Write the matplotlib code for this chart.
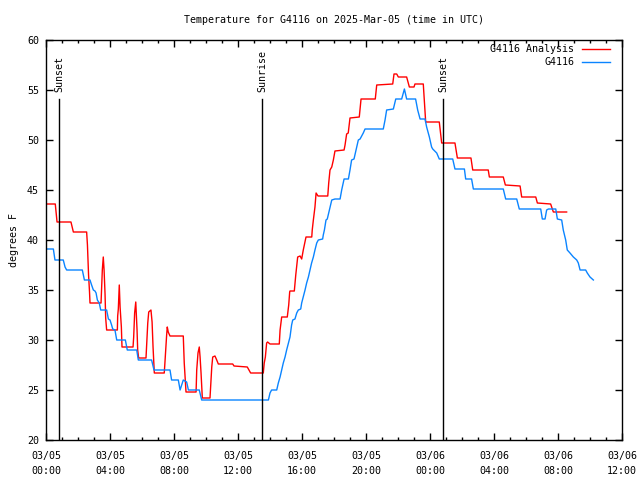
import matplotlib
matplotlib.use("Agg")
import matplotlib.pyplot as plt
from matplotlib.ticker import MultipleLocator

# ---- data (hours since 2025-03-05 00:00 UTC, degrees F) ----
analysis_hours = [0.04, 0.58, 0.69, 1.56, 1.71, 2.54, 2.59, 2.66, 2.72, 2.75, 3.44, 3.52, 3.58, 3.63, 3.69, 3.73,
                  3.79, 4.46, 4.48, 4.52, 4.58, 4.63, 4.71, 4.75, 5.44, 5.48, 5.54, 5.61, 5.64, 5.69, 5.73, 5.79,
                  6.25, 6.29, 6.36, 6.42, 6.56, 6.63, 6.69, 6.77, 7.39, 7.42, 7.48, 7.54, 7.58, 7.64, 7.75, 8.58,
                  8.64, 8.75, 9.38, 9.42, 9.50, 9.58, 9.63, 9.69, 9.77, 10.25, 10.29, 10.36, 10.42, 10.56, 10.67,
                  10.77, 11.67, 11.75, 12.58, 12.79, 13.58, 13.64, 13.71, 13.79, 13.85, 14.00, 14.58, 14.63, 14.73,
                  15.08, 15.17, 15.23, 15.25, 15.52, 15.61, 15.73, 15.88, 15.98, 16.08, 16.25, 16.61, 16.64, 16.71,
                  16.81, 16.88, 17.00, 17.61, 17.67, 17.75, 17.86, 17.96, 18.06, 18.63, 18.69, 18.79, 18.89, 19.00,
                  19.58, 19.69, 20.58, 20.67, 21.67, 21.75, 21.92, 22.02, 22.54, 22.71, 23.00, 23.06, 23.58, 23.73,
                  24.58, 24.73, 25.56, 25.71, 26.56, 26.67, 27.64, 27.71, 28.58, 28.71, 29.63, 29.73, 30.61, 30.71,
                  31.54, 31.71, 32.54]
analysis_temps = [43.6, 43.6, 41.8, 41.8, 40.8, 40.8, 39.5, 36.5, 34.8, 33.7, 33.7, 37.0, 38.3, 37.0, 34.6, 32.2,
                  31.0, 31.0, 32.4, 33.1, 35.5, 33.3, 31.3, 29.3, 29.3, 30.3, 32.7, 33.8, 32.8, 31.0, 29.0, 28.2,
                  28.2, 29.4, 31.7, 32.8, 33.0, 31.8, 29.3, 26.7, 26.7, 27.4, 29.0, 30.5, 31.3, 30.8, 30.4, 30.4,
                  27.7, 24.8, 24.8, 27.0, 28.7, 29.3, 28.3, 26.7, 24.2, 24.2, 25.3, 27.3, 28.3, 28.4, 28.0,
                  27.6, 27.6, 27.4, 27.3, 26.7, 26.7, 27.7, 28.3, 29.7, 29.8, 29.6, 29.6, 31.0, 32.3,
                  32.3, 33.5, 34.8, 34.9, 34.9, 36.5, 38.3, 38.4, 38.1, 39.0, 40.3, 40.3, 41.0, 42.0,
                  43.3, 44.7, 44.4, 44.4, 45.7, 47.0, 47.3, 48.0, 48.9, 49.0, 49.5, 50.6, 50.7, 52.2,
                  52.3, 54.1, 54.1, 55.5, 55.6, 56.6, 56.6, 56.3, 56.3, 55.3, 55.3, 55.6, 55.6, 51.8,
                  51.8, 49.7, 49.7, 48.2, 48.2, 47.0, 47.0, 46.3, 46.3, 45.5, 45.4, 44.3, 44.3, 43.7,
                  43.6, 42.8, 42.8]

obs_hours = [0.04, 0.46, 0.56, 1.08, 1.19, 1.29, 2.27, 2.40, 2.75, 2.85, 2.96, 3.06, 3.13, 3.21, 3.33, 3.42,
             3.79, 3.90, 4.00, 4.10, 4.17, 4.31, 4.42, 4.96, 5.04, 5.08, 5.67, 5.77, 6.60, 6.75, 7.75, 7.85,
             8.27, 8.38, 8.48, 8.58, 8.79, 8.90, 9.58, 9.73, 13.90, 14.00, 14.10, 14.42, 14.52, 14.63, 14.73,
             14.83, 14.94, 15.04, 15.15, 15.25, 15.35, 15.42, 15.56, 15.67, 15.77, 15.92, 15.98, 16.08, 16.19,
             16.29, 16.40, 16.50, 16.60, 16.71, 16.81, 16.92, 17.02, 17.29, 17.33, 17.40, 17.50, 17.58, 17.71,
             17.86, 18.06, 18.38, 18.48, 18.63, 18.90, 19.00, 19.10, 19.25, 19.38, 19.52, 19.63, 19.83, 19.94,
             21.08, 21.19, 21.29, 21.71, 21.86, 22.23, 22.33, 22.40, 22.48, 22.54, 23.10, 23.23, 23.38, 23.69,
             23.79, 23.96, 24.10, 24.17, 24.42, 24.58, 25.42, 25.56, 26.15, 26.23, 26.60, 26.71, 28.58, 28.73,
             29.42, 29.58, 30.92, 31.02, 31.19, 31.29, 31.40, 31.86, 31.96, 32.23, 32.33, 32.48, 32.58, 32.75,
             32.96, 33.17, 33.27, 33.38, 33.73, 33.83, 34.00, 34.21]
obs_temps = [39.1, 39.1, 38.0, 38.0, 37.3, 37.0, 37.0, 36.0, 36.0, 35.5, 35.0, 34.9, 34.7, 34.0, 33.7, 33.0,
             33.0, 32.1, 32.0, 31.5, 31.1, 31.0, 30.0, 30.0, 29.3, 29.0, 29.0, 28.0, 28.0, 27.0, 27.0, 26.0,
             26.0, 25.0, 25.5, 26.0, 25.8, 25.0, 25.0, 24.0, 24.0, 24.7, 25.0, 25.0, 25.7, 26.3, 27.0,
             27.7, 28.3, 29.0, 29.7, 30.3, 31.5, 32.0, 32.1, 32.7, 33.0, 33.1, 33.7, 34.3, 35.0,
             35.7, 36.3, 37.0, 37.7, 38.3, 39.0, 39.7, 40.0, 40.1, 40.5, 41.0, 42.0, 42.1, 43.0,
             44.0, 44.1, 44.1, 45.0, 46.1, 46.1, 47.0, 48.0, 48.1, 49.0, 50.0, 50.1, 50.7, 51.1,
             51.1, 52.0, 53.0, 53.1, 54.1, 54.1, 54.7, 55.1, 54.5, 54.1, 54.1, 53.0, 52.1, 52.1,
             51.3, 50.3, 49.3, 49.1, 48.7, 48.1, 48.1, 47.1, 47.1, 46.1, 46.1, 45.1, 45.1, 44.1,
             44.1, 43.1, 43.1, 42.1, 42.1, 43.0, 43.1, 43.1, 42.1, 42.0, 41.0, 40.0, 39.0, 38.7,
             38.3, 38.0, 37.7, 37.0, 37.0, 36.7, 36.3, 36.0]

event_names = ["Sunset", "Sunrise", "Sunset"]
event_hours = [0.83, 13.52, 24.83]

xtick_hours = [0, 4, 8, 12, 16, 20, 24, 28, 32, 36]
xtick_labels = ["03/05\n00:00", "03/05\n04:00", "03/05\n08:00", "03/05\n12:00", "03/05\n16:00",
                "03/05\n20:00", "03/06\n00:00", "03/06\n04:00", "03/06\n08:00", "03/06\n12:00"]
series_names = ["G4116 Analysis", "G4116"]

FONT = "DejaVu Sans Mono"
FS = 7.2
RED = "#ff0000"
BLUE = "#0a84ff"

fig = plt.figure(figsize=(6.4, 4.8), dpi=100)
ax = fig.add_axes([46 / 640, 40 / 480, 576 / 640, 400 / 480])

ax.plot(analysis_hours, analysis_temps, color=RED, lw=1.0)
ax.plot(obs_hours, obs_temps, color=BLUE, lw=1.0)

for name, h in zip(event_names, event_hours):
    ax.plot([h, h], [20, 54.1], color="black", lw=1.0)
    ax.text(h, 54.8, name, rotation=90, ha="center", va="bottom",
            family=FONT, fontsize=FS)

ax.set_xlim(0, 36)
ax.set_ylim(20, 60)
ax.set_xticks(xtick_hours)
ax.set_xticklabels(xtick_labels, family=FONT, fontsize=FS, linespacing=1.6)
ax.xaxis.set_minor_locator(MultipleLocator(1))
ax.yaxis.set_major_locator(MultipleLocator(5))
for lab in ax.get_yticklabels():
    lab.set_family(FONT)
    lab.set_fontsize(FS)
ax.tick_params(axis="both", which="major", direction="in", length=5, width=1,
               top=True, right=True, pad=5)
ax.tick_params(axis="x", which="major", pad=8)
ax.tick_params(axis="x", which="minor", direction="in", length=2.5, width=1,
               top=True, bottom=True)
for s in ax.spines.values():
    s.set_linewidth(1.0)

ax.set_ylabel("degrees F", family=FONT, fontsize=FS, labelpad=6)
ax.set_title("Temperature for G4116 on 2025-Mar-05 (time in UTC)",
             family=FONT, fontsize=FS, pad=12)

# legend (gnuplot style: text right-aligned, sample to the right)
for i, (name, col) in enumerate(zip(series_names, [RED, BLUE])):
    yy = 0.9775 - i * 0.0325
    ax.text(0.9167, yy, name, transform=ax.transAxes, ha="right", va="center",
            family=FONT, fontsize=FS)
    ax.plot([0.9306, 0.979], [yy, yy], transform=ax.transAxes, color=col, lw=1.0)

fig.savefig("out.png", dpi=100)
